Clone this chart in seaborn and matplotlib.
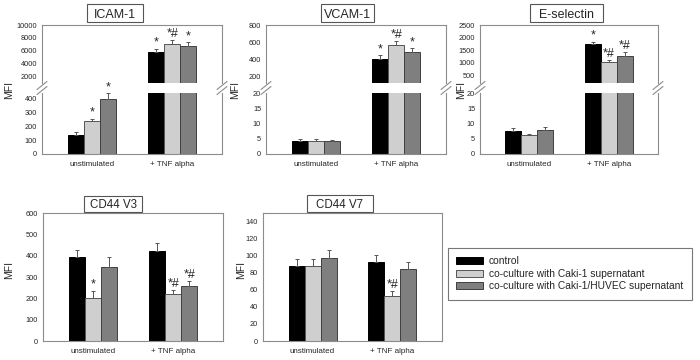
import numpy as np
import pandas as pd
import seaborn as sns
import matplotlib.pyplot as plt
from matplotlib.patches import Patch, Rectangle
from matplotlib.lines import Line2D

# ---- data ----
conditions = ["unstimulated", "+ TNF alpha"]
groups = ["control", "co-culture with Caki-1 supernatant",
          "co-culture with Caki-1/HUVEC supernatant"]

icam_mean = [[140, 235, 400], [5800, 7100, 6750]]
icam_err = [[20, 20, 40], [550, 650, 600]]
icam_sig = [["", "*", "*"], ["*", "*#", "*"]]

vcam_mean = [[4.2, 4.3, 4.4], [405, 565, 480]]
vcam_err = [[0.6, 0.7, 0.3], [40, 45, 50]]
vcam_sig = [["", "", ""], ["*", "*#", "*"]]

esel_mean = [[7.7, 6.2, 8.0], [1760, 1050, 1270]]
esel_err = [[0.9, 0.5, 1.0], [70, 50, 150]]
esel_sig = [["", "", ""], ["*", "*#", "*#"]]

cd44v3_mean = [[392, 203, 347], [420, 221, 257]]
cd44v3_err = [[36, 32, 49], [38, 19, 26]]
cd44v3_sig = [["", "*", ""], ["", "*#", "*#"]]

cd44v7_mean = [[88, 88, 97.5], [92, 53, 84]]
cd44v7_err = [[8, 8.5, 9.5], [9, 5.5, 8.5]]
cd44v7_sig = [["", "", ""], ["", "*#", ""]]

colors = ["#000000", "#cfcfcf", "#7f7f7f"]
edges = ["#000000", "#555555", "#404040"]
frame = "#8c8c8c"

sns.set_style("white")
plt.rcParams['font.family'] = ['Liberation Sans', 'DejaVu Sans']

W, H = 700, 360
fig = plt.figure(figsize=(7, 3.6), dpi=100)


def px_axes(x0, y0, x1, y1):
    return fig.add_axes([x0 / W, 1 - y1 / H, (x1 - x0) / W, (y1 - y0) / H])


def bars(ax, means, errs):
    df = pd.DataFrame({"condition": np.repeat(conditions, len(groups)),
                       "group": groups * len(conditions),
                       "mfi": np.ravel(means)})
    sns.barplot(data=df, x="condition", y="mfi", hue="group", order=conditions,
                hue_order=groups, palette=colors, width=0.6, errorbar=None,
                linewidth=0.7, legend=False, ax=ax)
    conts = list(ax.containers)
    for i, cont in enumerate(conts):
        xs = [p.get_x() + p.get_width() / 2 for p in cont]
        hs = [p.get_height() for p in cont]
        e = [errs[j][i] for j in range(len(conditions))]
        for p in cont:
            p.set_edgecolor(edges[i])
        ax.errorbar(xs, hs, yerr=[np.zeros(len(e)), e], fmt="none",
                    ecolor="#555555", elinewidth=0.7, capsize=1.3, capthick=0.7)
    ax.set_xlim(-0.62, 1.62)
    ax.set_xlabel("")
    ax.set_ylabel("")
    ax.tick_params(axis="y", length=2, width=0.5, color=frame, labelsize=5.3, pad=1.5)
    ax.tick_params(axis="x", length=2, width=0.5, color=frame, labelsize=5.8, pad=3)
    for s in ax.spines.values():
        s.set_color(frame)
        s.set_linewidth(0.8)
    return conts


def stars(axes_list, conts, means, errs, sig):
    # axes_list ordered bottom -> top; put the mark on the axis holding the bar tip
    for i, cont in enumerate(conts):
        for j, p in enumerate(cont):
            if not sig[j][i]:
                continue
            top = means[j][i] + errs[j][i]
            ax = axes_list[0]
            for a in axes_list:
                lo, hi = a.get_ylim()
                if lo <= top <= hi:
                    ax = a
            ax.annotate(sig[j][i], (p.get_x() + p.get_width() / 2, top), xytext=(0, 0),
                        textcoords="offset points", ha="center", va="bottom",
                        fontsize=9, annotation_clip=False)


def box_title(x0, y0, x1, y1, text, size=9):
    fig.add_artist(Rectangle((x0 / W, 1 - y1 / H), (x1 - x0) / W, (y1 - y0) / H,
                             transform=fig.transFigure, facecolor="white",
                             edgecolor="#555555", linewidth=0.8))
    fig.text((x0 + x1) / 2 / W, 1 - (y0 + y1) / 2 / H, text, ha="center",
             va="center_baseline", fontsize=size)


def mfi(x, y):
    fig.text(x / W, 1 - y / H, "MFI", rotation=90, ha="center", va="center",
             fontsize=7.5)


def break_marks(x0, x1, y0=83, y1=93):
    for x in (x0, x1):
        for dy in (-2.5, 2.5):
            xs = np.array([x - 5, x + 5])
            ys = np.array([(y0 + y1) / 2 + 4 + dy, (y0 + y1) / 2 - 4 + dy])
            fig.add_artist(Line2D(xs / W, 1 - ys / H, transform=fig.transFigure,
                                  color=frame, linewidth=0.8))


def broken_panel(x0, x1, means, errs, sig, low_lim, low_ticks, up_lim, up_ticks):
    up = px_axes(x0, 25, x1, 83)
    low = px_axes(x0, 93, x1, 154)
    conts = bars(low, means, errs)
    bars(up, means, errs)
    low.set_ylim(*low_lim)
    low.set_yticks(low_ticks)
    up.set_ylim(*up_lim)
    up.set_yticks(up_ticks)
    up.set_xticks([])
    low.spines["top"].set_visible(False)
    up.spines["bottom"].set_visible(False)
    stars([low, up], conts, means, errs, sig)
    break_marks(x0, x1)


broken_panel(42, 222, icam_mean, icam_err, icam_sig,
             (0, 440), [0, 100, 200, 300, 400], (1000, 10000), [2000, 4000, 6000, 8000, 10000])
broken_panel(266, 446, vcam_mean, vcam_err, vcam_sig,
             (0, 20), [0, 5, 10, 15, 20], (120, 800), [200, 400, 600, 800])
broken_panel(480, 658, esel_mean, esel_err, esel_sig,
             (0, 20), [0, 5, 10, 15, 20], (200, 2500), [500, 1000, 1500, 2000, 2500])

v3 = px_axes(43, 213, 223, 341)
c3 = bars(v3, cd44v3_mean, cd44v3_err)
v3.set_ylim(0, 600)
v3.set_yticks(range(0, 601, 100))
stars([v3], c3, cd44v3_mean, cd44v3_err, cd44v3_sig)

v7 = px_axes(263, 213, 442, 341)
c7 = bars(v7, cd44v7_mean, cd44v7_err)
v7.set_ylim(0, 150)
v7.set_yticks(range(0, 141, 20))
stars([v7], c7, cd44v7_mean, cd44v7_err, cd44v7_sig)

box_title(87, 4, 143, 22, "ICAM-1")
box_title(321, 4, 374, 22, "VCAM-1")
box_title(530, 4, 603, 22, "E-selectin")
box_title(84, 196, 142, 212, "CD44 V3", 8.3)
box_title(307, 195, 373, 212, "CD44 V7", 8.3)

mfi(9, 90)
mfi(235, 90)
mfi(461, 90)
mfi(9, 270)
mfi(241, 270)

handles = [Patch(facecolor=c, edgecolor=e, linewidth=0.7) for c, e in zip(colors, edges)]
leg = fig.legend(handles, groups, loc="upper left", bbox_to_anchor=(448 / W, 1 - 248 / H),
                 fontsize=7.4, frameon=True, fancybox=False, edgecolor="#555555",
                 handlelength=2.6, handleheight=0.7, handletextpad=0.6,
                 labelspacing=0.25, borderpad=0.8, borderaxespad=0)
leg.get_frame().set_linewidth(0.8)

fig.savefig("out.png", dpi=100)
